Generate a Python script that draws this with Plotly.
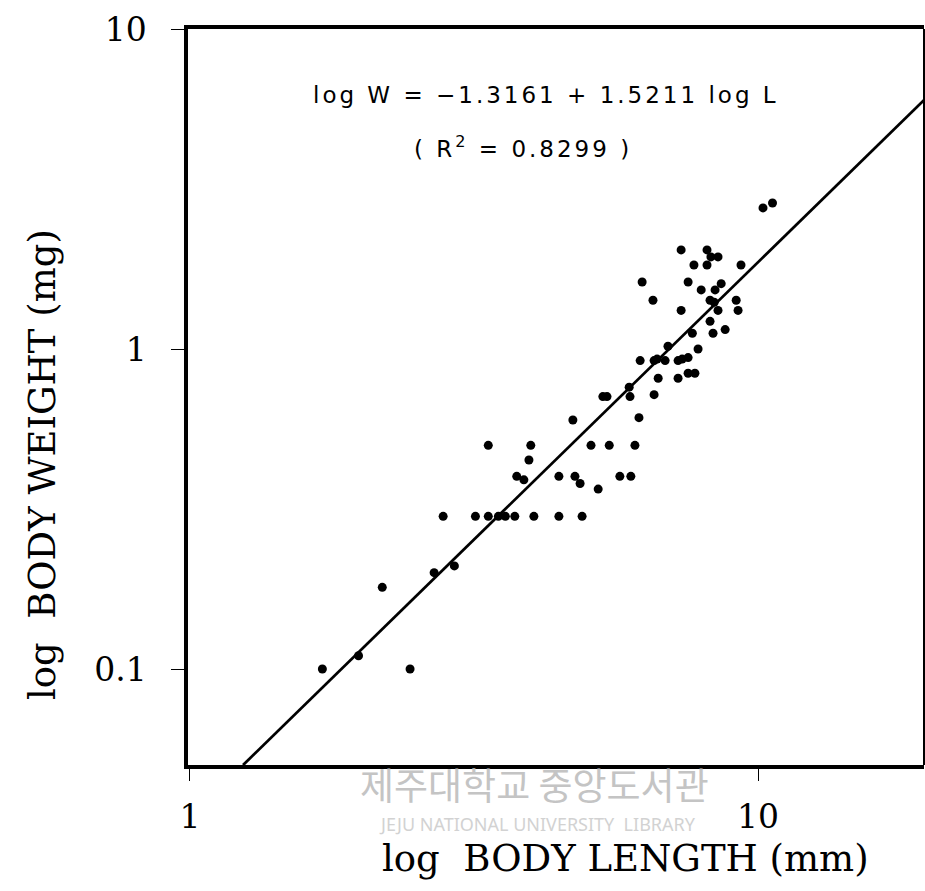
import plotly.graph_objects as go

# Scatter data: body length (mm) and body weight (mg)
length_mm = [1.71, 1.98, 2.18, 2.44, 2.69, 2.92, 2.79, 3.18, 3.35, 3.49, 3.59, 3.73, 4.03, 4.46, 4.90,
             3.35, 3.98, 3.95, 3.76, 3.87, 4.46, 4.76, 4.86, 5.23, 4.72, 5.08, 5.47, 6.07, 5.71, 5.97,
             6.17, 5.33, 5.42, 5.95, 5.93, 6.56, 6.67, 6.20, 6.56, 6.64, 6.86, 6.94, 7.23, 7.35, 7.53,
             7.23, 7.53, 7.74, 7.84, 7.66, 8.33, 8.75, 8.23, 7.32, 8.50, 9.22, 6.53, 8.23, 8.37, 9.15,
             7.94, 8.40, 8.61, 6.25, 7.53, 7.71, 8.13, 9.33, 7.32, 8.13, 8.26, 8.50, 10.2, 10.6]
weight_mg = [0.10, 0.11, 0.18, 0.10, 0.20, 0.21, 0.30, 0.30, 0.30, 0.30, 0.30, 0.30, 0.30, 0.30, 0.30,
             0.50, 0.50, 0.45, 0.40, 0.39, 0.40, 0.40, 0.38, 0.365, 0.60, 0.50, 0.50, 0.50, 0.40, 0.40,
             0.61, 0.71, 0.71, 0.71, 0.76, 0.72, 0.81, 0.92, 0.92, 0.93, 0.92, 1.02, 0.92, 0.93, 0.94,
             0.81, 0.84, 0.84, 1.00, 1.12, 1.12, 1.15, 1.22, 1.32, 1.32, 1.32, 1.42, 1.42, 1.40, 1.42,
             1.53, 1.53, 1.60, 1.62, 1.62, 1.83, 1.83, 1.83, 2.04, 2.04, 1.94, 1.94, 2.76, 2.86]

# Regression line as drawn (end points)
line_length = [1.24, 19.6]
line_weight = [0.0501, 6.0]

x_tickvals = [1, 10]
x_ticktext = ["1", "10"]
y_tickvals = [0.1, 1, 10]
y_ticktext = ["0.1", "1", "10"]

equation_text = "log W = \u22121.3161 + 1.5211 log L"
r2_text = "( R<sup>2</sup> = 0.8299 )"
x_title = "log  BODY LENGTH (mm)"
y_title = "log  BODY WEIGHT (mg)"

serif = "DejaVu Serif"

fig = go.Figure()
fig.add_trace(go.Scatter(x=line_length, y=line_weight, mode="lines",
                         line=dict(color="black", width=2.8), showlegend=False))
fig.add_trace(go.Scatter(x=length_mm, y=weight_mg, mode="markers",
                         marker=dict(color="black", size=9), showlegend=False))

fig.update_layout(
    width=925, height=891,
    margin=dict(l=188, r=1, t=29, b=126),
    paper_bgcolor="white", plot_bgcolor="white",
    showlegend=False,
    xaxis=dict(type="log", range=[-0.0035, 1.292], showgrid=False, zeroline=False,
               showline=True, linewidth=3.5, linecolor="black", mirror=True,
               ticks="outside", ticklen=12, tickwidth=1.2, tickcolor="black",
               tickvals=x_tickvals, ticktext=x_ticktext, ticklabelstandoff=8,
               tickfont=dict(family=serif, size=33, color="black")),
    yaxis=dict(type="log", range=[-1.3, 1.0], showgrid=False, zeroline=False,
               showline=True, linewidth=3.5, linecolor="black", mirror=False,
               ticks="outside", ticklen=13, tickwidth=1.2, tickcolor="black",
               tickvals=y_tickvals, ticktext=y_ticktext, ticklabelstandoff=18,
               tickfont=dict(family=serif, size=33, color="black")),
)

# thin right border
fig.add_shape(type="line", xref="paper", yref="paper", x0=1, x1=1, y0=0, y1=1,
              line=dict(color="black", width=2))

eq_font = dict(family="DejaVu Sans", size=23, color="black")
fig.add_annotation(xref="paper", yref="paper", x=(546 - 188) / 736, y=(765 - 95) / 736,
                   text='<span style="letter-spacing:3px">' + equation_text + '</span>',
                   showarrow=False, font=eq_font, xanchor="center", yanchor="middle")
fig.add_annotation(xref="paper", yref="paper", x=(523 - 188) / 736, y=(765 - 147) / 736,
                   text='<span style="letter-spacing:3px">' + r2_text + '</span>',
                   showarrow=False, font=eq_font, xanchor="center", yanchor="middle")

# axis titles
fig.add_annotation(xref="paper", yref="paper", x=(625 - 188) / 736, y=(765 - 858) / 736,
                   text=x_title, showarrow=False, xanchor="center", yanchor="middle",
                   font=dict(family=serif, size=37, color="black"))
fig.add_annotation(xref="paper", yref="paper", x=(42 - 188) / 736, y=(765 - 465) / 736,
                   text=y_title, showarrow=False, xanchor="center", yanchor="middle",
                   textangle=-90, font=dict(family=serif, size=37, color="black"))

# library watermark
fig.add_annotation(xref="paper", yref="paper", x=(534 - 188) / 736, y=(765 - 784) / 736,
                   text="제주대학교 중앙도서관", showarrow=False, xanchor="center", yanchor="middle",
                   font=dict(family="Noto Sans CJK KR", size=37, color="#c4c4c4"))
fig.add_annotation(xref="paper", yref="paper", x=(537 - 188) / 736, y=(765 - 824) / 736,
                   text="JEJU NATIONAL UNIVERSITY  LIBRARY", showarrow=False,
                   xanchor="center", yanchor="middle",
                   font=dict(family="Noto Sans", size=18, color="#d2d2d2"))

fig.write_html("out.html")
